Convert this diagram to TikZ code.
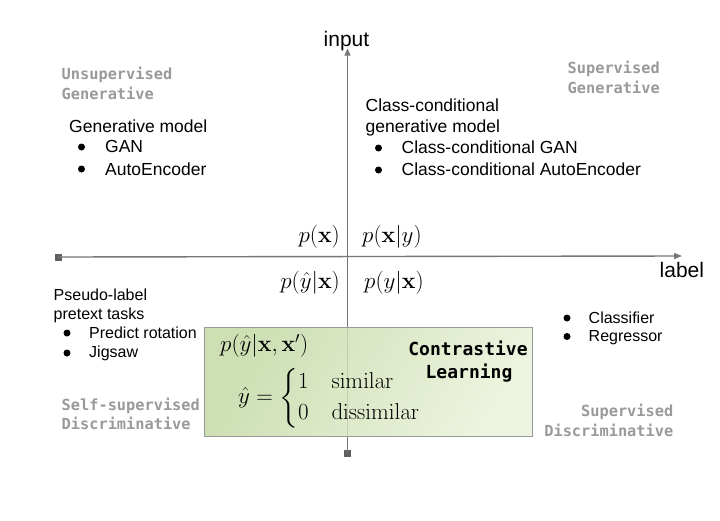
\RequirePackage{fix-cm}
\documentclass[tikz,border=0pt]{standalone}
\usepackage{amsmath}
\usepackage[no-math]{fontspec}
\setmainfont{Liberation Sans}
\newfontfamily\monof{DejaVu Sans Mono}
\usetikzlibrary{arrows.meta}
\definecolor{catgray}{HTML}{9A9A9A}
\definecolor{axisgray}{HTML}{777777}
\definecolor{markgray}{HTML}{5F5F5F}
\definecolor{boxdark}{HTML}{C2D8A3}
\definecolor{boxlight}{HTML}{EAF2D8}
\tikzset{
  cat/.style={inner sep=0pt, text=catgray, font=\monof\bfseries\fontsize{15.3}{18}\selectfont},
  big/.style={inner sep=0pt, font=\fontsize{17.5}{21}\selectfont},
  small/.style={inner sep=0pt, font=\fontsize{16}{19}\selectfont},
  axlab/.style={inner sep=0pt, font=\fontsize{21}{25}\selectfont},
  mth/.style={inner sep=0pt, font=\fontsize{23}{26}\selectfont},
  bul/.style={circle, fill=black, inner sep=0pt, minimum size=7pt},
  axis/.style={draw=axisgray, line width=1.4pt},
  marker/.style={fill=markgray, inner sep=0pt, minimum size=7pt},
  cl/.style={inner sep=0pt, font=\monof\bfseries\fontsize{18}{22}\selectfont},
}
\begin{document}
\begin{tikzpicture}[x=1pt,y=-1pt]
\useasboundingbox (0,0) rectangle (720,520);
\fill[white] (0,0) rectangle (720,520);

% axes
\node[marker] (hm) at (58,257) {};
\coordinate (he) at (682,256);
\node[marker] (vm) at (347.5,453) {};
\coordinate (ve) at (347.5,48.5);
\draw[axis, -{Triangle[length=8pt,width=6pt]}] (hm.center) -- (he);
\draw[axis, -{Triangle[length=7pt,width=6pt]}] (vm.center) -- (ve);

\node[axlab, anchor=base] (inp) at (346.5,46) {input};
\node[axlab, anchor=base west] (lab) at (659.5,277.5) {label};

% green box (semi-transparent over the axis)
\node[draw=gray!80, line width=0.8pt, left color=boxdark, right color=boxlight, shading angle=60, fill opacity=0.82, draw opacity=1, minimum width=328pt, minimum height=109pt, inner sep=0pt] (cbox) at (368,381.5) {};

% category labels
\node[cat, anchor=base west] (ug1) at (61.5,79) {Unsupervised};
\node[cat, anchor=base west] (ug2) at (61.5,99) {Generative};
\node[cat, anchor=base east] (sg1) at (660,73) {Supervised};
\node[cat, anchor=base east] (sg2) at (660,93) {Generative};
\node[cat, anchor=base west] (sd1) at (61.5,410) {Self-supervised};
\node[cat, anchor=base west] (sd2) at (61.5,429.5) {Discriminative};
\node[cat, anchor=base east] (vd1) at (673.5,416.5) {Supervised};
\node[cat, anchor=base east] (vd2) at (673.5,436.5) {Discriminative};

% upper left
\node[big, anchor=base west] (gm) at (69,132) {Generative model};
\node[bul] (b1) at (81.5,147) {};
\node[big, anchor=base west] (gan) at (105,152.5) {GAN};
\node[bul] (b2) at (81.5,169) {};
\node[big, anchor=base west] (ae) at (105,175) {AutoEncoder};

% upper right
\node[big, anchor=base west] (cc1) at (365.5,111) {Class-conditional};
\node[big, anchor=base west] (cc2) at (365.5,132) {generative model};
\node[bul] (b3) at (378.5,148) {};
\node[big, anchor=base west] (cgan) at (401.5,153.5) {Class-conditional GAN};
\node[bul] (b4) at (378.5,170) {};
\node[big, anchor=base west] (cae) at (401.5,175) {Class-conditional AutoEncoder};

% lower left
\node[small, anchor=base west] (pl1) at (53.5,300) {Pseudo-label};
\node[small, anchor=base west] (pl2) at (53.5,319) {pretext tasks};
\node[bul] (b5) at (67,333) {};
\node[small, anchor=base west] (pr) at (89,338.5) {Predict rotation};
\node[bul] (b6) at (67,353) {};
\node[small, anchor=base west] (jg) at (89,357.5) {Jigsaw};

% lower right
\node[bul] (b7) at (567,318) {};
\node[small, anchor=base west] (clf) at (588.5,323) {Classifier};
\node[bul] (b8) at (567,336.5) {};
\node[small, anchor=base west] (reg) at (588.5,341.5) {Regressor};

% probabilities
\node[mth, anchor=base east] (px) at (340,242.5) {$p(\mathbf{x})$};
\node[mth, anchor=base west] (pxy) at (362,242.5) {$p(\mathbf{x}|y)$};
\node[mth, anchor=base east] (pyhx) at (340,288) {$p(\hat{y}|\mathbf{x})$};
\node[mth, anchor=base west] (pyx) at (364,288) {$p(y|\mathbf{x})$};

% box content
\node[mth, anchor=base west] (pc) at (220,351.5) {$p(\hat{y}|\mathbf{x},\mathbf{x}')$};
\node[mth, anchor=west] (cases) at (238,398) {$\hat{y}=\begin{cases}1 & \mathrm{similar}\\ 0 & \mathrm{dissimilar}\end{cases}$};
\node[cl, anchor=base] (cl1) at (468,355) {Contrastive};
\node[cl, anchor=base] (cl2) at (469,378) {Learning};
\end{tikzpicture}
\end{document}
